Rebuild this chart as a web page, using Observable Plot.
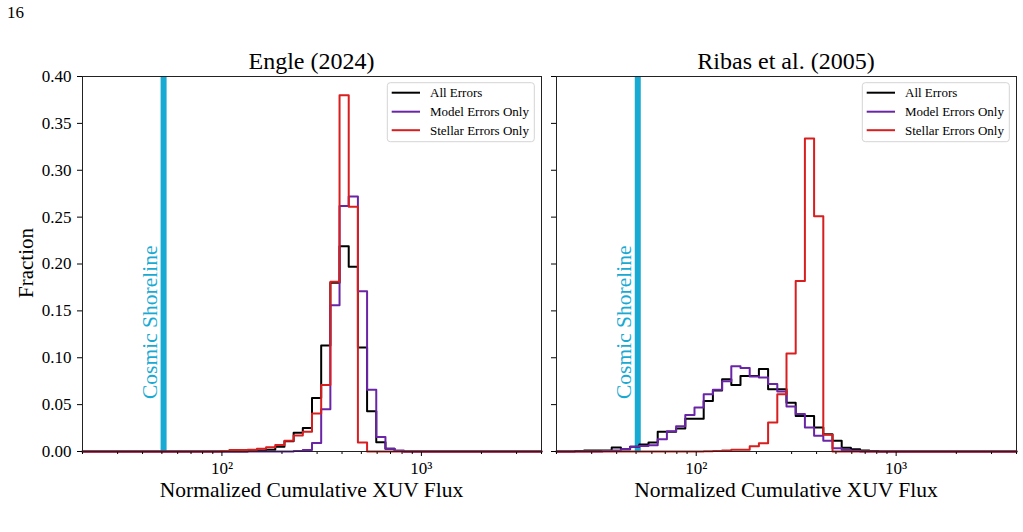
<!DOCTYPE html>
<html>
<head>
<meta charset="utf-8">
<script src="https://cdn.jsdelivr.net/npm/d3@7"></script>
<script src="https://cdn.jsdelivr.net/npm/@observablehq/plot@0.6"></script>
<style>
  body { margin: 0; background: #fff; }
  #wrap { position: relative; width: 1023px; height: 532px; overflow: hidden; background: #fff; }
  #wrap svg { position: absolute; top: 0; }
</style>
</head>
<body>
<div id="wrap"></div>
<script>
// ---------------- data ----------------
const binMin = 20, binMax = 4000, binCount = 50;   // log-spaced histogram bins
const shoreline = [51];                            // Cosmic Shoreline position
const panelTitles = ["Engle (2024)", "Ribas et al. (2005)"];
const seriesNames = ["All Errors", "Model Errors Only", "Stellar Errors Only"];
const yTicks = [0, 0.05, 0.10, 0.15, 0.20, 0.25, 0.30, 0.35, 0.40];
const xMajorTicks = [100, 1000];
const xMinorTicks = [20, 30, 40, 50, 60, 70, 80, 90, 200, 300, 400, 500, 600, 700, 800, 900, 2000, 3000, 4000];

// Engle (2024): fraction per bin (50 bins)
const engleAll = [
  0,0,0,0,0,0,0,0,0,0,
  0,0,0,0,0,0,0,0,0.0005,0.001,
  0.002,0.005,0.011,0.020,0.025,0.057,0.113,0.180,0.219,0.197,
  0.111,0.043,0.010,0.003,0.0005,0,0,0,0,0,
  0,0,0,0,0,0,0,0,0,0];
const engleModel = [
  0,0,0,0,0,0,0,0,0,0,
  0,0,0,0,0,0,0,0,0,0,
  0,0,0,0.0005,0.0015,0.009,0.045,0.156,0.262,0.272,
  0.171,0.066,0.0155,0.003,0.001,0,0,0,0,0,
  0,0,0,0,0,0,0,0,0,0];
const engleStellar = [
  0,0,0,0,0,0,0,0,0,0,
  0,0,0,0,0,0.0005,0.0015,0.0015,0.002,0.003,
  0.0045,0.007,0.0115,0.017,0.021,0.0405,0.071,0.181,0.380,0.261,
  0.0095,0,0,0,0,0,0,0,0,0,
  0,0,0,0,0,0,0,0,0,0];

// Ribas et al. (2005)
const ribasAll = [
  0,0,0.0005,0.001,0.001,0.001,0.0043,0.0025,0.005,0.0075,
  0.0095,0.021,0.021,0.0245,0.035,0.035,0.054,0.065,0.077,0.071,
  0.0805,0.0805,0.088,0.0665,0.0665,0.052,0.038,0.038,0.0256,0.0185,
  0.0114,0.004,0.0025,0.001,0.0005,0,0,0,0,0,
  0,0,0,0,0,0,0,0,0,0];
const ribasModel = [
  0,0,0,0,0,0.0005,0.001,0.0025,0.005,0.006,
  0.0068,0.013,0.0215,0.027,0.039,0.047,0.061,0.066,0.075,0.091,
  0.089,0.080,0.079,0.072,0.064,0.048,0.040,0.0256,0.0167,0.0114,
  0.0035,0.0015,0.0008,0,0,0,0,0,0,0,
  0,0,0,0,0,0,0,0,0,0];
const ribasStellar = [
  0,0,0,0,0,0,0,0,0,0,
  0,0,0,0,0,0,0.0003,0.0005,0.001,0.002,
  0.002,0.0055,0.0088,0.031,0.061,0.1045,0.182,0.334,0.251,0.018,
  0,0,0,0,0,0,0,0,0,0,
  0,0,0,0,0,0,0,0,0,0];

// ---------------- styling ----------------
const FONT = '"Liberation Serif", "Times New Roman", Times, serif';
const colors = ["#000000", "#6a24a6", "#d81e1e"];
const cyan = "#19aad3";

const edges = d3.range(binCount + 1).map(i => binMin * Math.pow(binMax / binMin, i / binCount));

function stepPoints(values) {
  const pts = [{x: edges[0], y: 0}];
  values.forEach((v, k) => { pts.push({x: edges[k], y: v}); pts.push({x: edges[k + 1], y: v}); });
  pts.push({x: edges[binCount], y: 0});
  return pts;
}

const sup = {1: "\u00B9", 2: "\u00B2", 3: "\u00B3"};
const fmtMajor = d => "10" + sup[Math.round(Math.log10(d))];

function makePanel(seriesValues, showYLabels, width, marginLeft, marginRight) {
  return Plot.plot({
    width, height: 532,
    marginTop: 76, marginBottom: 81, marginLeft, marginRight,
    style: {fontFamily: FONT, fontSize: "17px", color: "#000", background: "transparent", overflow: "visible"},
    x: {type: "log", domain: [binMin, binMax], label: null},
    y: {domain: [0, 0.4], label: null},
    marks: [
      Plot.ruleX(shoreline, {stroke: cyan, strokeWidth: 6}),
      Plot.text(["Cosmic Shoreline"], {
        x: () => 43.6, y: () => 0.056, text: d => d, rotate: -90,
        textAnchor: "start", lineAnchor: "middle", fill: cyan, fontSize: 21.5, fontFamily: FONT
      }),
      ...seriesValues.map((vals, i) => Plot.line(stepPoints(vals), {
        x: "x", y: "y", stroke: colors[i], strokeWidth: 2, curve: "linear"
      })),
      Plot.axisY({ticks: yTicks, tickSize: 5, tickPadding: 6, label: null, fontFamily: FONT, fontSize: 17,
        tickFormat: showYLabels ? d3.format(".2f") : () => ""}),
      Plot.axisX({ticks: xMajorTicks, tickSize: 5, tickPadding: 5, label: null, fontFamily: FONT, fontSize: 17,
        tickFormat: fmtMajor}),
      Plot.axisX({ticks: xMinorTicks, tickSize: 3, label: null, tickFormat: () => ""}),
      Plot.frame({stroke: "#222", strokeWidth: 1})
    ]
  });
}

const wrap = document.getElementById("wrap");
const p1 = makePanel([engleAll, engleModel, engleStellar], true, 548, 82, 7);
p1.style.left = "0px";
wrap.appendChild(p1);
const p2 = makePanel([ribasAll, ribasModel, ribasStellar], false, 475, 8, 7);
p2.style.left = "548px";
wrap.appendChild(p2);

// ---------------- overlay text & legends ----------------
const ov = d3.create("svg").attr("width", 1023).attr("height", 532)
  .style("left", "0px").style("font-family", FONT).style("pointer-events", "none");

ov.append("text").attr("x", 7).attr("y", 18).attr("font-size", 17).text("16");

const centers = [311.5, 786];
panelTitles.forEach((t, i) => {
  ov.append("text").attr("x", centers[i]).attr("y", 69).attr("text-anchor", "middle")
    .attr("font-size", 24).text(t);
  ov.append("text").attr("x", centers[i]).attr("y", 497).attr("text-anchor", "middle")
    .attr("font-size", 21.5).text("Normalized Cumulative XUV Flux");
});
ov.append("text").attr("transform", "translate(33,263) rotate(-90)").attr("text-anchor", "middle")
  .attr("font-size", 21).text("Fraction");

[387.3, 862.3].forEach(lx => {
  const g = ov.append("g").attr("transform", `translate(${lx},82.7)`);
  g.append("rect").attr("width", 147).attr("height", 59).attr("rx", 3)
    .attr("fill", "#fff").attr("fill-opacity", 0.8).attr("stroke", "#d4d4d4").attr("stroke-width", 1);
  const rows = [10, 29, 47.5];
  seriesNames.forEach((name, i) => {
    g.append("line").attr("x1", 4.4).attr("x2", 32.7).attr("y1", rows[i]).attr("y2", rows[i])
      .attr("stroke", colors[i]).attr("stroke-width", 2);
    g.append("text").attr("x", 42.7).attr("y", rows[i]).attr("dy", "0.35em")
      .attr("font-size", 13).text(name);
  });
});
wrap.appendChild(ov.node());
</script>
</body>
</html>
